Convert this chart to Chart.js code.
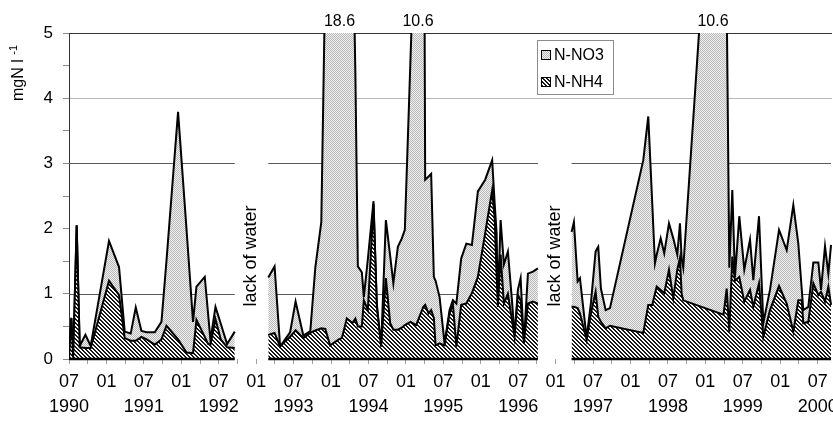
<!DOCTYPE html>
<html>
<head>
<meta charset="utf-8">
<script src="https://cdn.jsdelivr.net/npm/chart.js@4.4.1/dist/chart.umd.min.js"></script>
<style>
  html, body { margin: 0; padding: 0; background: #fff; }
  canvas { display: block; }
</style>
</head>
<body>
<canvas id="c" width="833" height="423"></canvas>
<script>
// ---- DATA (x = months counted from Jan 1990, so 6 = 07/1990) ----
// three sampling periods, separated by "lack of water"
const seg1Months = [6.0, 6.38, 6.67, 7.23, 7.72, 8.63, 9.48, 12.41, 14.02, 14.93, 15.89, 16.70, 17.61, 18.46, 19.74, 20.82, 21.62, 23.48, 24.83, 25.88, 26.43, 27.76, 28.29, 28.67, 29.48, 30.33, 31.34, 32.57];
const seg1NH4 = [0, 0.63, 0.02, 2.05, 0.18, 0.17, 0.17, 1.2, 0.98, 0.32, 0.28, 0.28, 0.34, 0.3, 0.22, 0.3, 0.51, 0.3, 0.1, 0.09, 0.6, 0.34, 0.23, 0.22, 0.61, 0.3, 0.18, 0.17];
const seg1NO3 = [0, 0, 0, 0, 0.02, 0.2, 0.03, 0.61, 0.43, 0.1, 0.11, 0.51, 0.09, 0.11, 0.19, 0.27, 0.99, 3.49, 1.9, 0.48, 0.51, 0.92, 0.47, 0.07, 0.19, 0.24, 0.05, 0.25];

const seg2Months = [37.94, 38.95, 39.84, 40.64, 41.44, 42.32, 43.56, 44.68, 45.48, 46.44, 47.08, 47.85, 49.25, 49.73, 50.53, 51.45, 51.9, 52.30, 52.94, 53.26, 53.90, 54.81, 55.34, 56.03, 56.79, 57.48, 57.99, 58.71, 59.35, 59.83, 60.75, 61.64, 62.8, 63.09, 63.63, 64.05, 64.48, 64.76, 65.4, 66.2, 67.0, 67.53, 68.09, 68.86, 69.69, 70.58, 71.54, 72.71, 73.83, 74.22, 74.54, 74.75, 75.18, 75.71, 76.35, 77.0, 77.42, 77.95, 78.39, 78.91, 79.56, 80.36, 81.16];
const seg2NH4 = [0.37, 0.4, 0.19, 0.27, 0.34, 0.44, 0.32, 0.4, 0.44, 0.47, 0.46, 0.21, 0.3, 0.32, 0.62, 0.55, 0.62, 0.5, 0.5, 0.9, 0.75, 2.38, 0.8, 0.19, 1.24, 0.55, 0.45, 0.45, 0.48, 0.52, 0.57, 0.52, 0.8, 0.83, 0.7, 0.75, 0.63, 0.21, 0.24, 0.21, 0.7, 0.85, 0.19, 0.83, 0.85, 1.01, 1.26, 1.93, 2.59, 2.18, 1.3, 0.8, 1.6, 0.85, 1.0, 0.6, 0.34, 0.98, 0.9, 0.24, 0.85, 0.88, 0.85];
const seg2NO3 = [0.88, 1.02, 0, 0.03, 0.07, 0.44, 0.04, 0.03, 0.96, 1.63, 5.44, 10.19, 18.3, 15.68, 11.08, 6.25, 3.78, 0.92, 0.83, 0.05, 0.78, 0.04, 0.05, 0, 0.89, 1.03, 0.71, 1.27, 1.37, 1.46, 4.07, 6.73, 9.8, 1.92, 2.1, 2.09, 0.63, 0.99, 0.71, 0.03, 0.05, 0.05, 0.66, 0.71, 0.92, 0.74, 1.31, 0.82, 0.46, 0.22, 0.63, 0.06, 0.53, 0.6, 0.65, 0.3, 0.02, 0.08, 0.34, 0, 0.46, 0.46, 0.54];

const seg3Months = [86.56, 86.93, 87.53, 87.9, 88.97, 89.66, 90.41, 90.83, 91.26, 92.02, 92.71, 98.05, 98.85, 99.49, 99.92, 100.2, 100.84, 101.41, 102.17, 102.86, 103.5, 103.93, 104.2, 104.46, 110.91, 111.42, 111.84, 112.32, 112.75, 113.44, 114.24, 115.16, 115.69, 116.6, 117.29, 118.36, 119.81, 121.04, 122.1, 122.9, 123.45, 123.7, 124.5, 125.31, 126.11, 126.54, 127.18, 127.71, 128.15];
const seg3NH4 = [0.8, 0.8, 0.78, 0.7, 0.29, 0.7, 1.03, 0.65, 0.57, 0.47, 0.51, 0.4, 0.83, 0.83, 1.0, 1.11, 1.06, 1.01, 1.37, 0.93, 1.37, 1.55, 1.0, 0.9, 0.68, 1.08, 0.42, 1.57, 1.2, 1.26, 0.88, 1.06, 0.8, 1.16, 0.34, 0.75, 1.12, 0.85, 0.42, 0.9, 0.9, 0.55, 0.57, 1.16, 0.98, 1.03, 0.88, 1.11, 0.83];
const seg3NO3 = [1.15, 1.3, 0.41, 0.54, 0.03, 0.16, 0.62, 1.07, 0.51, 0.28, 0.27, 2.65, 2.89, 1.55, 0.47, 0.49, 0.79, 0.61, 0.71, 0.92, 0.23, 0.53, 0.54, 0.5, 9.92, 4.42, 0.98, 1.02, 0.06, 0.93, 0.49, 0.77, 0.41, 1.03, 0.21, 0.31, 0.86, 0.82, 1.94, 0.87, 0.17, 0.2, 0.23, 0.32, 0.5, 0.03, 0.85, 0.2, 0.92];

const xMin = 6, xMax = 128.3;          // 07/1990 .. ~09/2000
const yMax = 5;
const yTitle = 'mgN l', yTitleSup = '-1';
const gapLabel = 'lack of water';

const FONT = '"Liberation Sans", Arial, sans-serif';

// ---- patterns (NO3 stippled, NH4 hatched) ----
function makePattern(size, draw){
  const c = document.createElement('canvas');
  c.width = c.height = size;
  const g = c.getContext('2d');
  draw(g);
  return g.createPattern(c, 'repeat');
}
const no3Fill = makePattern(2, g => {
  g.fillStyle = '#f0f0f0'; g.fillRect(0, 0, 2, 2);
  g.fillStyle = '#b8b8b8'; g.fillRect(0, 0, 1, 1); g.fillRect(1, 1, 1, 1);
});
const nh4Fill = makePattern(4, g => {
  g.fillStyle = '#fff'; g.fillRect(0, 0, 4, 4);
  g.fillStyle = '#1a1a1a';
  for(let y = 0; y < 4; y++){ g.fillRect(y % 4, y, 1, 1); g.fillRect((y + 1) % 4, y, 1, 1); }
});

// ---- build series: NH4 at the bottom, NO3 stacked on top ----
const segs = [
  { m: seg1Months, nh4: seg1NH4, no3: seg1NO3 },
  { m: seg2Months, nh4: seg2NH4, no3: seg2NO3 },
  { m: seg3Months, nh4: seg3NH4, no3: seg3NO3 }
];
const nh4Pts = [], topPts = [], ranges = [];
segs.forEach((s, i) => {
  if(i > 0){
    const gx = (ranges[i-1][1] + s.m[0]) / 2;
    nh4Pts.push({ x: gx, y: null }); topPts.push({ x: gx, y: null });
  }
  s.m.forEach((m, j) => {
    nh4Pts.push({ x: m, y: s.nh4[j] });
    topPts.push({ x: m, y: +(s.nh4[j] + s.no3[j]).toFixed(2) });
  });
  ranges.push([s.m[0], s.m[s.m.length - 1]]);
});

// ---- decorations: segmented grid, baseline, peak values, texts, legend ----
const decor = {
  id: 'decor',
  beforeDatasetsDraw(chart){
    const { ctx, scales: { x, y } } = chart;
    ctx.save();
    ctx.strokeStyle = '#5a5a5a'; ctx.lineWidth = 1;
    [3, 1].forEach(v => {
      const py = Math.round(y.getPixelForValue(v)) + 0.5;
      ranges.forEach(r => {
        ctx.beginPath();
        ctx.moveTo(x.getPixelForValue(r[0]), py);
        ctx.lineTo(x.getPixelForValue(r[1]), py);
        ctx.stroke();
      });
    });
    ctx.restore();
  },
  afterDatasetsDraw(chart){
    const { ctx, chartArea, scales: { x, y } } = chart;
    ctx.save();
    // thick base line under each sampled period
    ctx.strokeStyle = '#000'; ctx.lineWidth = 2.5;
    const by = y.getPixelForValue(0);
    ranges.forEach(r => {
      ctx.beginPath();
      ctx.moveTo(x.getPixelForValue(r[0]), by);
      ctx.lineTo(x.getPixelForValue(r[1]), by);
      ctx.stroke();
    });

    // values of peaks going off scale
    ctx.fillStyle = '#000';
    ctx.font = '16px ' + FONT;
    ctx.textAlign = 'center'; ctx.textBaseline = 'middle';
    const d = topPts;
    const cross = (a, b) => a.x + (yMax - a.y) * (b.x - a.x) / (b.y - a.y);
    for(let i = 0; i < d.length; i++){
      if(d[i].y == null || d[i].y <= yMax) continue;
      let j = i, peak = d[i].y;
      while(j + 1 < d.length && d[j+1].y != null && d[j+1].y > yMax){ j++; peak = Math.max(peak, d[j].y); }
      const px = (x.getPixelForValue(cross(d[i-1], d[i])) + x.getPixelForValue(cross(d[j], d[j+1]))) / 2;
      ctx.fillText(peak.toFixed(1), px, chartArea.top - 11);
      i = j;
    }

    // "lack of water" in the gaps
    ctx.font = '18px ' + FONT;
    for(let i = 1; i < ranges.length; i++){
      const gx = (x.getPixelForValue(ranges[i-1][1]) + x.getPixelForValue(ranges[i][0])) / 2;
      ctx.save();
      ctx.translate(gx, 256);
      ctx.rotate(-Math.PI / 2);
      ctx.fillText(gapLabel, 0, 0);
      ctx.restore();
    }

    // y axis title with superscript
    ctx.save();
    ctx.translate(19, 101);
    ctx.rotate(-Math.PI / 2);
    ctx.textAlign = 'left';
    ctx.font = '16px ' + FONT;
    ctx.fillText(yTitle, 0, 0);
    const w = ctx.measureText(yTitle + ' ').width;
    ctx.font = '11px ' + FONT;
    ctx.fillText(yTitleSup, w, -5);
    ctx.restore();

    // legend box
    const lx = 537, ly = 40, lw = 76, lh = 54;
    ctx.fillStyle = '#fff';
    ctx.fillRect(lx, ly, lw, lh);
    ctx.strokeStyle = '#8c8c8c'; ctx.lineWidth = 1;
    ctx.strokeRect(lx + 0.5, ly + 0.5, lw, lh);
    const items = chart.data.datasets.slice().reverse();
    items.forEach((ds, k) => {
      const cy = ly + 15 + k * 27;
      ctx.fillStyle = ds.backgroundColor;
      ctx.fillRect(lx + 4, cy - 5, 10, 10);
      ctx.strokeStyle = '#000';
      ctx.strokeRect(lx + 4.5, cy - 4.5, 9, 9);
      ctx.fillStyle = '#000';
      ctx.font = '16px ' + FONT;
      ctx.textAlign = 'left';
      ctx.fillText(ds.label, lx + 17, cy + 1);
    });
    ctx.restore();
  }
};

Chart.defaults.font.family = FONT;
Chart.defaults.color = '#000';

new Chart(document.getElementById('c'), {
  type: 'line',
  data: {
    datasets: [
      { label: 'N-NH4', data: nh4Pts, fill: 'origin', backgroundColor: nh4Fill,
        borderColor: '#000', borderWidth: 2, pointRadius: 0, tension: 0 },
      { label: 'N-NO3', data: topPts, fill: '-1', backgroundColor: no3Fill,
        borderColor: '#000', borderWidth: 2, pointRadius: 0, tension: 0 }
    ]
  },
  options: {
    responsive: false,
    animation: false,
    devicePixelRatio: 1,
    layout: { padding: { top: 33, right: 1, left: 0, bottom: 0 } },
    plugins: { legend: { display: false }, tooltip: { enabled: false } },
    scales: {
      x: {
        type: 'linear', min: xMin, max: xMax,
        afterBuildTicks: s => { const t = []; for(let v = 6; v <= xMax; v += 3) t.push({ value: v }); s.ticks = t; },
        // fixed height; let the last year label run off the edge like the original
        afterFit: s => { s.height = 64; s.paddingLeft = 0; s.paddingRight = 0; },
        border: { display: false },
        grid: { drawOnChartArea: false, tickLength: 5, tickColor: '#a0a0a0' },
        ticks: {
          autoSkip: false, maxRotation: 0, minRotation: 0, padding: 6,
          font: { size: 18, lineHeight: 1.39 },
          callback: v => {
            const m = ((v % 12) + 12) % 12;
            if(m === 6) return ['07', String(1990 + Math.floor(v / 12))];
            if(m === 0) return ['01', ''];
            return '';
          }
        }
      },
      y: {
        min: 0, max: yMax,
        afterFit: s => { s.width = 69; },
        border: { display: true, color: '#333', width: 1 },
        grid: {
          tickLength: 6, tickColor: '#8a8a8a',
          color: c => c.tick.value === 5 ? '#333' : (c.tick.value === 4 ? '#b8b8b8' : 'rgba(0,0,0,0)')
        },
        ticks: {
          stepSize: 0.5, padding: 10, font: { size: 17 },
          callback: v => Number.isInteger(v) ? String(v) : ''
        }
      }
    }
  },
  plugins: [decor]
});
</script>
</body>
</html>
